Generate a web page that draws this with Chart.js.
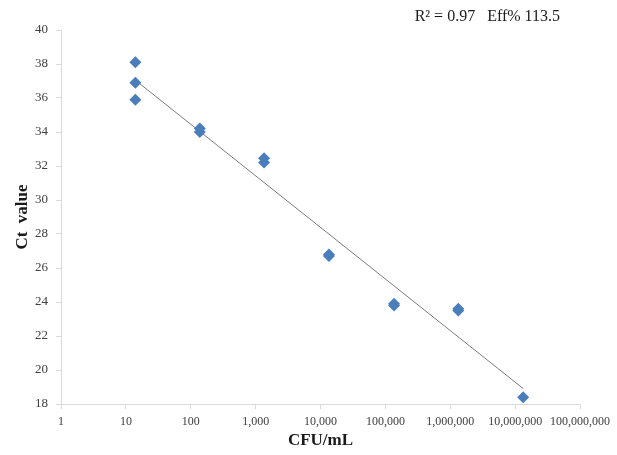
<!DOCTYPE html>
<html lang="en">
<head>
    <meta charset="UTF-8">
    <title>Ct value vs CFU/mL</title>
    <script src="https://cdn.jsdelivr.net/npm/chart.js"></script>
    <style>
        html, body { margin: 0; padding: 0; background: #fff; }
        #wrap { width: 617px; height: 455px; }
    </style>
</head>
<body>
    <div id="wrap"><canvas id="ctChart" width="617" height="455"></canvas></div>

    <script>
        // measured points (CFU/mL, Ct)
        const cfuValues = [14, 14, 14, 138, 138, 1350, 1350, 13500, 13500, 136000, 136000, 1330000, 1330000, 13300000];
        const ctValues = [38.1, 36.9, 35.9, 34.2, 34.0, 32.45, 32.2, 26.8, 26.7, 23.9, 23.8, 23.6, 23.5, 18.4];

        // trend line end points as drawn
        const trendX = [14.5, 13400000];
        const trendY = [37.0, 18.9];

        const xTicks = [1, 10, 100, 1000, 10000, 100000, 1000000, 10000000, 100000000];
        const annotationText = 'R\u00B2 = 0.97   Eff% 113.5';

        const serif = '"Liberation Serif", "Times New Roman", serif';

        const annotationPlugin = {
            id: 'annotationText',
            afterDraw(chart) {
                const ctx = chart.ctx;
                ctx.save();
                ctx.font = '16px ' + serif;
                ctx.fillStyle = '#1a1a1a';
                ctx.textAlign = 'right';
                ctx.textBaseline = 'middle';
                ctx.fillText(annotationText, 560, 17);
                ctx.restore();
            }
        };

        const ctx = document.getElementById('ctChart').getContext('2d');
        new Chart(ctx, {
            type: 'scatter',
            data: {
                datasets: [
                    {
                        label: 'Ct',
                        data: cfuValues.map((x, i) => ({ x: x, y: ctValues[i] })),
                        pointStyle: 'rectRot',
                        pointRadius: 6,
                        pointHoverRadius: 6,
                        backgroundColor: '#4a7ebb',
                        borderColor: '#4a7ebb',
                        borderWidth: 0
                    },
                    {
                        type: 'line',
                        label: 'Trend',
                        data: trendX.map((x, i) => ({ x: x, y: trendY[i] })),
                        borderColor: '#7a7a7a',
                        borderWidth: 1,
                        pointRadius: 0,
                        fill: false
                    }
                ]
            },
            options: {
                responsive: false,
                animation: false,
                layout: { padding: { top: 30, right: 37, bottom: 0, left: 0 } },
                plugins: {
                    legend: { display: false },
                    tooltip: { enabled: false }
                },
                scales: {
                    x: {
                        type: 'logarithmic',
                        min: 1,
                        max: 100000000,
                        afterBuildTicks: scale => {
                            scale.ticks = xTicks.map(v => ({ value: v }));
                        },
                        afterFit: scale => { scale.height = 51; },
                        grid: {
                            drawOnChartArea: false,
                            color: '#d9d9d9',
                            tickLength: 5
                        },
                        border: { color: '#d9d9d9' },
                        ticks: {
                            autoSkip: false,
                            maxRotation: 0,
                            padding: 6,
                            color: '#404040',
                            font: { family: serif, size: 12 },
                            callback: v => Number(v).toLocaleString('en-US')
                        },
                        title: {
                            display: true,
                            text: 'CFU/mL',
                            color: '#1a1a1a',
                            font: { family: serif, size: 17, weight: 'bold' },
                            padding: { top: 0, bottom: 4 }
                        }
                    },
                    y: {
                        min: 18,
                        max: 40,
                        afterFit: scale => { scale.width = 61; },
                        grid: {
                            drawOnChartArea: false,
                            color: '#d9d9d9',
                            tickLength: 5
                        },
                        border: { color: '#d9d9d9' },
                        ticks: {
                            stepSize: 2,
                            padding: 8,
                            color: '#404040',
                            font: { family: serif, size: 13 }
                        },
                        title: {
                            display: true,
                            text: 'Ct  value',
                            color: '#1a1a1a',
                            font: { family: serif, size: 17, weight: 'bold' },
                            padding: { top: 12, bottom: 0 }
                        }
                    }
                }
            },
            plugins: [annotationPlugin]
        });
    </script>
</body>
</html>
